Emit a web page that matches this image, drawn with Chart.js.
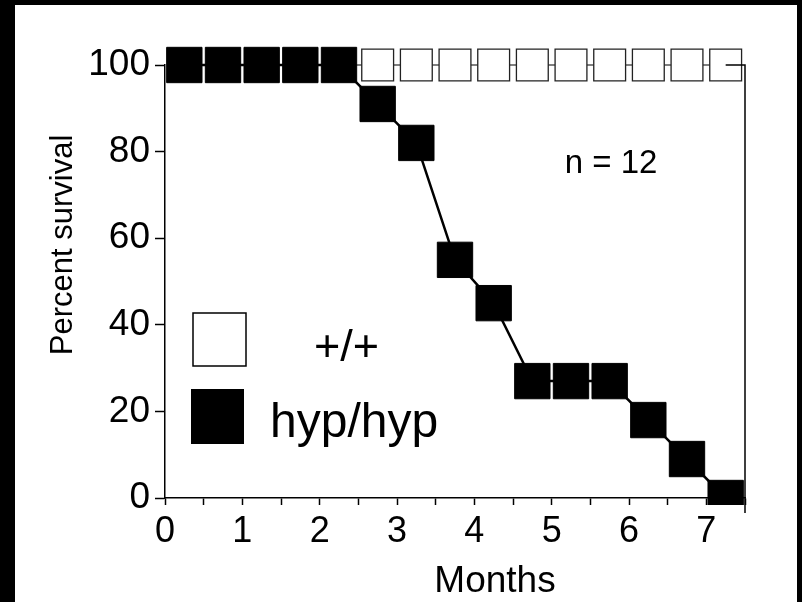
<!DOCTYPE html>
<html>
<head>
<meta charset="utf-8">
<script src="https://cdn.jsdelivr.net/npm/chart.js@4"></script>
<style>
  html, body { margin: 0; padding: 0; background: #000; }
  body { width: 802px; height: 602px; position: relative; overflow: hidden; }
  #frame { position: absolute; left: 15px; top: 5px; width: 782px; height: 597px; background: #fff; }
</style>
</head>
<body>
<div id="frame"><canvas id="chart-survival"></canvas></div>
<script>
// months at which each animal was scored
const months     = [0.25, 0.75, 1.25, 1.75, 2.25, 2.75, 3.25, 3.75, 4.25, 4.75, 5.25, 5.75, 6.25, 6.75, 7.25]
const wildType   = [100, 100, 100, 100, 100, 100, 100, 100, 100, 100, 100, 100, 100, 100, 100]
const hypHyp     = [100, 100, 100, 100, 100, 91, 82, 55, 45, 27, 27, 27, 18, 9, 0]
const yTicks     = [0, 20, 40, 60, 80, 100]
const seriesName = ['+/+', 'hyp/hyp']
const nLabel     = 'n = 12'

const FONT = '"Liberation Sans", Arial, sans-serif'

const toPoints = (xs, ys) => xs.map((x, i) => ({ x, y: ys[i] }))

// legend, n label, axis titles and the right frame line
const decor = {
  id: 'decor',
  afterDatasetsDraw(chart) {
    const { ctx, chartArea: a, scales: { x } } = chart
    ctx.save()
    ctx.strokeStyle = '#000'
    ctx.lineWidth = 1.5
    ctx.beginPath()
    ctx.moveTo(x.getPixelForValue(months[months.length - 1]), a.top)
    ctx.lineTo(a.right, a.top)
    ctx.lineTo(a.right, a.bottom + 15)
    ctx.stroke()

    // legend
    ctx.fillStyle = '#fff'
    ctx.fillRect(178, 308, 53, 53)
    ctx.lineWidth = 1.5
    ctx.strokeRect(178, 308, 53, 53)
    ctx.fillStyle = '#000'
    ctx.fillRect(176, 384, 53, 55)

    ctx.fillStyle = '#000'
    ctx.textBaseline = 'alphabetic'
    ctx.textAlign = 'left'
    ctx.font = `45px ${FONT}`
    ctx.fillText(seriesName[0], 299, 356)
    ctx.font = `48px ${FONT}`
    ctx.fillText(seriesName[1], 255, 432)

    ctx.textAlign = 'center'
    ctx.font = `33px ${FONT}`
    ctx.fillText(nLabel, 596, 168)

    ctx.font = `37px ${FONT}`
    ctx.fillText('Months', 480, 587)

    ctx.translate(57, 240)
    ctx.rotate(-Math.PI / 2)
    ctx.font = `31px ${FONT}`
    ctx.fillText('Percent survival', 0, 0)
    ctx.restore()
  },
}

new Chart(document.getElementById('chart-survival'), {
  type: 'line',
  data: {
    datasets: [
      {
        label:           seriesName[1],
        data:            toPoints(months, hypHyp),
        borderColor:     '#000',
        borderWidth:     2.5,
        backgroundColor: '#000',
        pointStyle:      'rect',
        pointRadius:     25,
        pointBorderWidth: 1,
        pointBorderColor: '#000',
        pointBackgroundColor: '#000',
        tension:         0,
        clip:            { left: 40, top: 40, right: 40, bottom: 7 },
      },
      {
        label:           seriesName[0],
        data:            toPoints(months, wildType),
        borderColor:     '#000',
        borderWidth:     1.2,
        pointStyle:      'rect',
        pointRadius:     22.5,
        pointBorderWidth: 1.3,
        pointBorderColor: '#222',
        pointBackgroundColor: '#fff',
        tension:         0,
        clip:            false,
      },
    ],
  },
  options: {
    responsive: true, maintainAspectRatio: false,
    animation: false,
    events: [],
    layout: { padding: { top: 60, right: 52, left: 0, bottom: 0 } },
    plugins: { legend: { display: false }, tooltip: { enabled: false } },
    scales: {
      x: {
        type: 'linear', min: 0, max: 7.5,
        afterFit: s => { s.height = 104 },
        afterBuildTicks: s => { s.ticks = Array.from({ length: 16 }, (_, i) => ({ value: i * 0.5 })) },
        ticks: {
          autoSkip: false, maxRotation: 0, padding: 5,
          color: '#000', font: { family: FONT, size: 36 },
          callback: v => Number.isInteger(v) ? String(v) : '',
        },
        grid: { drawOnChartArea: false, tickLength: 7, tickColor: '#000', tickWidth: 1.5 },
        border: { color: '#000', width: 1.5 },
      },
      y: {
        min: 0, max: 100,
        afterFit: s => { s.width = 150 },
        afterBuildTicks: s => { s.ticks = yTicks.map(v => ({ value: v })) },
        ticks: { color: '#000', padding: 5, font: { family: FONT, size: 37 } },
        grid: { drawOnChartArea: false, tickLength: 10, tickColor: '#000', tickWidth: 1.5 },
        border: { color: '#000', width: 1.5 },
      },
    },
  },
  plugins: [decor],
})
</script>
</body>
</html>
